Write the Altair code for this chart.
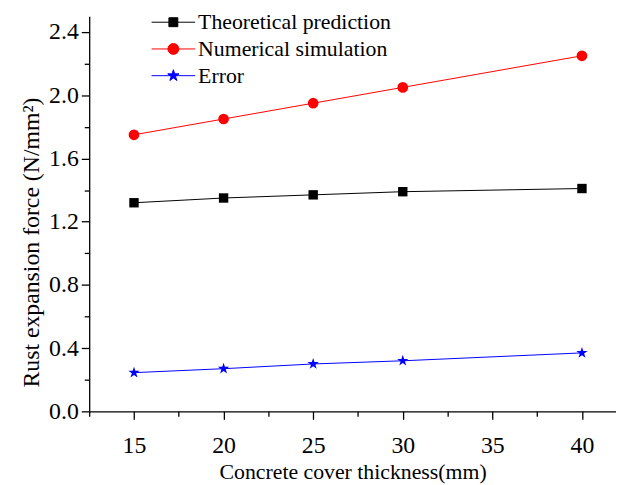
import altair as alt
import pandas as pd

# ---- data ----
thickness = [15, 20, 25, 30, 40]
theoretical = [1.32, 1.35, 1.37, 1.39, 1.41]
numerical = [1.75, 1.85, 1.95, 2.05, 2.25]
error = [0.245, 0.27, 0.30, 0.32, 0.37]
series_names = ["Theoretical prediction", "Numerical simulation", "Error"]
x_ticks = [12.5, 15, 17.5, 20, 22.5, 25, 27.5, 30, 32.5, 35, 37.5, 40]
y_ticks = [0.0, 0.2, 0.4, 0.6, 0.8, 1.0, 1.2, 1.4, 1.6, 1.8, 2.0, 2.2, 2.4]

# ---- styling ----
colors = ["#000000", "#ff0000", "#0000ff"]
FONT = "Liberation Serif"

star_pts = [(0, -1), (0.224, -0.309), (0.951, -0.309), (0.363, 0.118), (0.588, 0.809),
            (0, 0.382), (-0.588, 0.809), (-0.363, 0.118), (-0.951, -0.309), (-0.224, -0.309)]


def star_path(r):
    return "M" + "L".join(f"{x*r:.3f},{y*r:.3f}" for x, y in star_pts) + "Z"


STAR = star_path(1.0)
LINE = "M-4.4,0H4.4"
legend_shapes = [
    LINE + "M-0.9,-0.9H0.9V0.9H-0.9Z",
    LINE + "M1.1,0A1.1,1.1,0,1,1,-1.1,0A1.1,1.1,0,1,1,1.1,0Z",
    LINE + star_path(1.2),
]

rows = []
for name, vals in zip(series_names, [theoretical, numerical, error]):
    for t, v in zip(thickness, vals):
        rows.append({"thickness": t, "force": v, "series": name})
df = pd.DataFrame(rows)

x_enc = alt.X(
    "thickness:Q",
    scale=alt.Scale(domain=[12.5, 41.9], nice=False, zero=False),
    axis=alt.Axis(
        values=x_ticks,
        title="Concrete cover thickness(mm)",
        labelExpr="datum.value % 5 == 0 ? datum.value : ''",
        tickSize={"condition": {"test": "datum.value % 5 != 0", "value": 5}, "value": 8},
        labelPadding=15,
        titleY=68,
        titleBaseline="alphabetic",
        titleFontSize=22,
    ),
)
y_enc = alt.Y(
    "force:Q",
    scale=alt.Scale(domain=[0, 2.5], nice=False),
    axis=alt.Axis(
        values=y_ticks,
        title="Rust expansion force (N/mm²)",
        labelExpr="round(datum.value * 10) % 4 == 0 ? format(datum.value, '.1f') : ''",
        tickSize={"condition": {"test": "round(datum.value * 10) % 4 != 0", "value": 5}, "value": 8},
        labelPadding=3,
        titleX=-51,
        titleY=228,
        titleBaseline="alphabetic",
        titleFontSize=24,
    ),
)

color_scale = alt.Scale(domain=series_names, range=colors)

lines = alt.Chart(df).mark_line(strokeWidth=1).encode(
    x=x_enc, y=y_enc,
    color=alt.Color("series:N", scale=color_scale, legend=None),
    detail="series:N",
)

points = alt.Chart(df).mark_point(filled=True, opacity=1).encode(
    x=x_enc, y=y_enc,
    color=alt.Color("series:N", scale=color_scale, legend=None),
    shape=alt.Shape("series:N", scale=alt.Scale(domain=series_names, range=["square", "circle", STAR]), legend=None),
    size=alt.Size("series:N", scale=alt.Scale(domain=series_names, range=[90, 144, 150]), legend=None),
)

leg = alt.Legend(
    orient="none", legendX=74, legendY=-5, title=None,
    labelFont=FONT, labelFontSize=22, labelColor="black", labelLimit=400,
    symbolSize=100, symbolStrokeWidth=1, symbolOpacity=1,
    labelOffset=14, rowPadding=5, padding=0, symbolOffset=0,
)

legend_layer = alt.Chart(df).mark_point(filled=True, opacity=0).encode(
    x=x_enc, y=y_enc,
    fill=alt.Fill("series:N", scale=color_scale, legend=leg),
    stroke=alt.Stroke("series:N", scale=color_scale, legend=leg),
    shape=alt.Shape("series:N", scale=alt.Scale(domain=series_names, range=legend_shapes), legend=leg),
)

chart = (
    alt.layer(lines, points, legend_layer)
    .resolve_scale(fill="independent", stroke="independent", shape="independent")
    .properties(
        width=532, height=399,
        autosize=alt.AutoSizeParams(type="none"),
        padding={"left": 82, "top": 6, "right": 0, "bottom": 71},
    )
    .configure_view(strokeWidth=0)
    .configure_axis(
        grid=False,
        domainColor="black", domainWidth=1.3,
        tickColor="black", tickWidth=1.3,
        labelFont=FONT, labelFontSize=24, labelColor="black",
        titleFont=FONT, titleColor="black", titleFontWeight="normal",
    )
)

chart.save("out.html", embed_options={"renderer": "svg", "actions": False})
